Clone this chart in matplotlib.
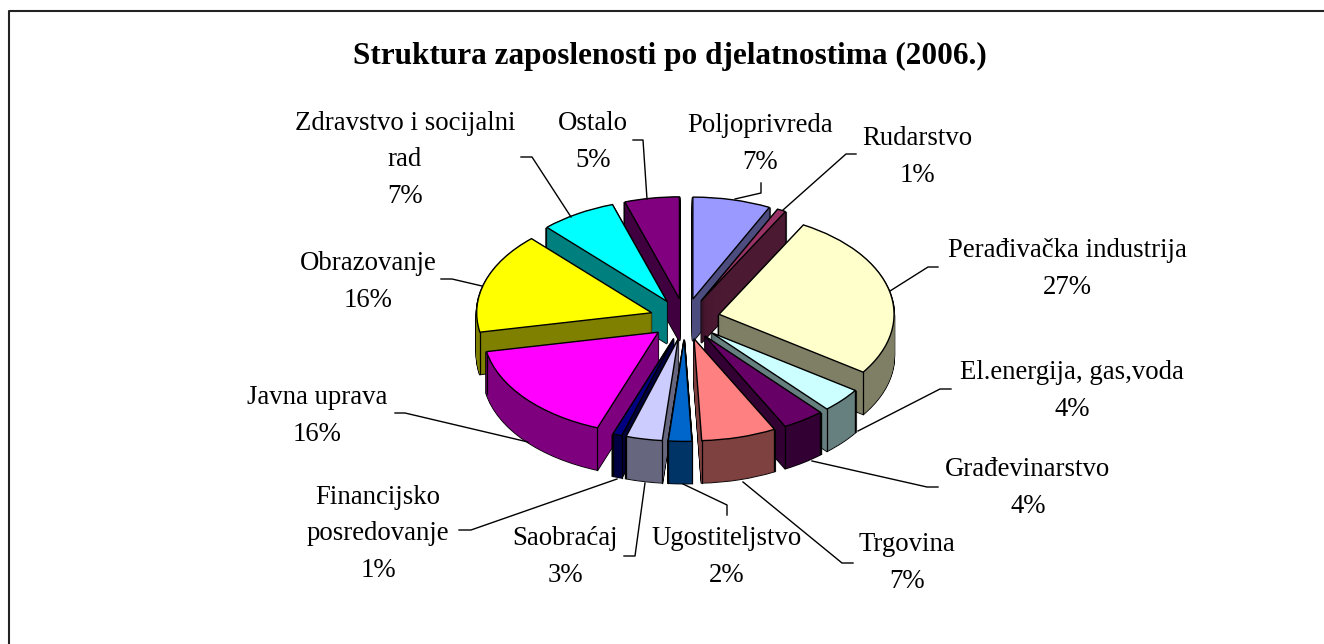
import matplotlib
matplotlib.use('Agg')
import numpy as np
import matplotlib.pyplot as plt
from matplotlib.lines import Line2D
from matplotlib.patches import Wedge

W, H = 1324, 644
plt.rcParams['font.family'] = ['Liberation Serif', 'DejaVu Serif']

title = 'Struktura zaposlenosti po djelatnostima (2006.)'
categories = ['Poljoprivreda', 'Rudarstvo', 'Perađivačka industrija', 'El.energija, gas,voda',
              'Građevinarstvo', 'Trgovina', 'Ugostiteljstvo', 'Saobraćaj',
              'Financijsko\nposredovanje', 'Javna uprava', 'Obrazovanje',
              'Zdravstvo i socijalni\nrad', 'Ostalo']
values = [7.2, 0.8, 26.6, 3.9, 3.9, 6.9, 2.15, 3.35, 0.85, 16.3, 16.0, 7.0, 5.05]
top_colors = ['#9999FF', '#993366', '#FFFFCC', '#CCFFFF', '#660066', '#FF8080', '#0066CC',
              '#CCCCFF', '#000080', '#FF00FF', '#FFFF00', '#00FFFF', '#800080']
side_colors = ['#4C4C7F', '#4C1933', '#7F7F66', '#667F7F', '#330033', '#7F4040', '#003366',
               '#66667F', '#000040', '#7F007F', '#7F7F00', '#007F7F', '#400040']

# label centres and leader lines, in picture pixels
label_xy = [(760, 144), (917, 157), (1067, 269), (1072, 391), (1028, 488), (907, 563), (727, 557),
            (565, 557), (378, 534), (317, 416), (368, 282), (405, 160), (593, 142)]
leaders = [[(761, 183), (761, 193), (735, 199)],
           [(856, 154), (846, 154), (783, 210)],
           [(938, 267), (928, 267), (890, 291)],
           [(951, 389), (940, 389), (858, 431)],
           [(938, 487), (927, 487), (812, 461)],
           [(853, 563), (842, 563), (743, 482)],
           [(727, 515), (727, 505), (683, 484)],
           [(624, 556), (635, 556), (645, 483)],
           [(459, 530), (471, 530), (617, 479)],
           [(395, 413), (405, 413), (528, 442)],
           [(441, 279), (452, 279), (482, 286)],
           [(521, 157), (532, 157), (571, 217)],
           [(633, 140), (643, 140), (647, 199)]]

# pie geometry in pixels: 1 data unit across / up
cx, cy = 685, 319
rx, ry = 175, 102
depth = 42

fig = plt.figure(figsize=(W / 100, H / 100), dpi=100)
ax = fig.add_axes([0, 0, 1, 1])
ax.axis('off')


def px(x, y):
    return (x / W, 1 - y / H)


n = len(values)
wedges, _ = ax.pie(values, startangle=90, counterclock=False, explode=[0.2] * n, radius=1,
                   colors=top_colors, center=(0, 0), frame=False,
                   wedgeprops=dict(edgecolor='black', linewidth=1.0))
ax.set_aspect('auto')
ax.set_xlim(-cx / rx, (W - cx) / rx)
ax.set_ylim(-(H - cy) / ry, cy / ry)

# back slices first, front slices over them
mids = [np.radians((w.theta1 + w.theta2) / 2) for w in wedges]
ranks = np.argsort(np.argsort([-np.sin(m) for m in mids]))
d = depth / ry
steps = np.linspace(d, 0, depth + 1)[:-1]
for w, rank, side in zip(wedges, ranks, side_colors):
    c = w.center
    z = 10 + rank * 10
    for s in steps:
        ax.add_patch(Wedge((c[0], c[1] - s), 1, w.theta1, w.theta2, facecolor='none',
                           edgecolor='black', linewidth=1.5, zorder=z))
        ax.add_patch(Wedge((c[0], c[1] - s), 1, w.theta1, w.theta2, facecolor=side,
                           edgecolor=side, linewidth=0.3, zorder=z + 1))
    w.set_zorder(z + 4)
    for t in (w.theta1, w.theta2):
        a = np.radians(t)
        if np.sin(a) < 0:
            x0, y0 = c[0] + np.cos(a), c[1] + np.sin(a)
            ax.plot([x0, x0], [y0, y0 - d], color='black', lw=0.9, zorder=z + 3)

for pts in leaders:
    xs, ys = zip(*[px(*p) for p in pts])
    fig.add_artist(Line2D(xs, ys, color='black', lw=1.0, transform=fig.transFigure))

for name, val, (x, y) in zip(categories, values, label_xy):
    fx, fy = px(x, y)
    fig.text(fx, fy, f'{name}\n{round(val)}%', ha='center', va='center', fontsize=19.3,
             linespacing=1.6, color='black')

fx, fy = px(670, 56)
fig.text(fx, fy, title, ha='center', va='center', fontsize=22.5, fontweight='bold')

# chart frame
xs, ys = zip(*[px(*p) for p in [(9, 644), (9, 11), (1324, 11)]])
fig.add_artist(Line2D(xs, ys, color='#222222', lw=1.5, transform=fig.transFigure))

fig.savefig('out.png', dpi=100, facecolor='white')
